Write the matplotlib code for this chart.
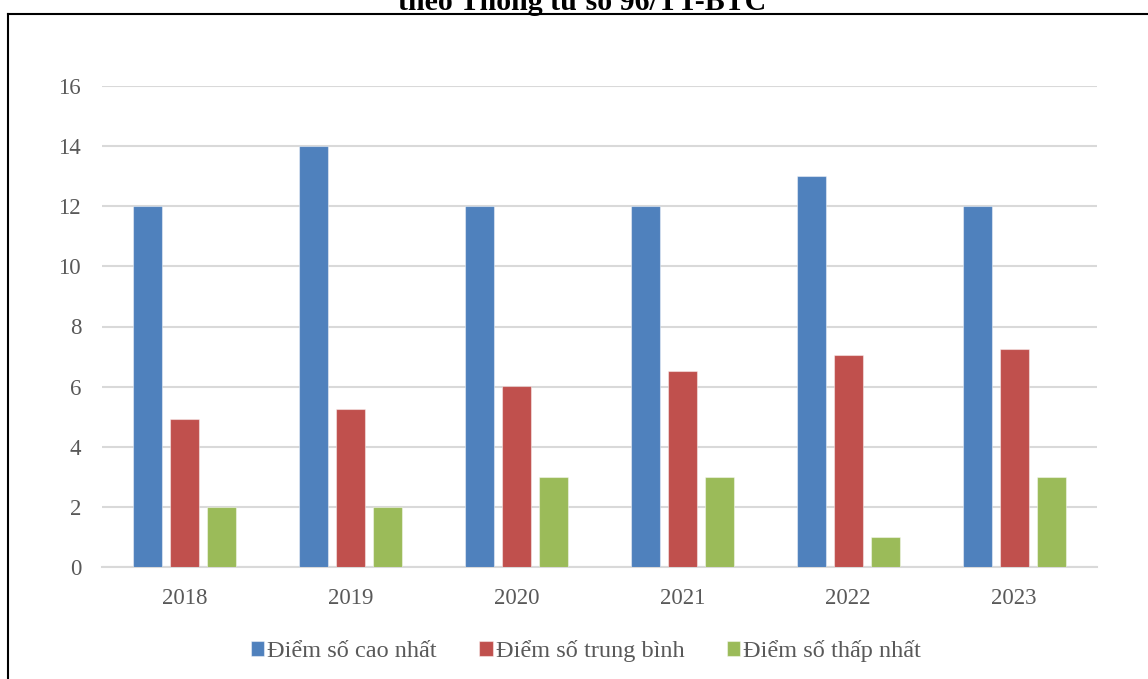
import numpy as np
import matplotlib.pyplot as plt
from matplotlib.lines import Line2D

years = ['2018', '2019', '2020', '2021', '2022', '2023']
cao_nhat = [12, 14, 12, 12, 13, 12]
trung_binh = [4.92, 5.27, 6.02, 6.52, 7.05, 7.24]
thap_nhat = [2, 2, 3, 3, 1, 3]
labels = ['Điểm số cao nhất', 'Điểm số trung bình', 'Điểm số thấp nhất']
colors = ['#4F81BD', '#C0504D', '#9BBB59']

plt.rcParams['font.family'] = ['Liberation Serif', 'DejaVu Serif']

fig = plt.figure(figsize=(11.48, 6.79), dpi=100)
ax = fig.add_axes([102/1148, 1-567/679, 995/1148, 481/679])

x = np.arange(len(years))
w = 0.175
step = 0.223
for i, (vals, lab, c) in enumerate(zip([cao_nhat, trung_binh, thap_nhat], labels, colors)):
    ax.bar(x + (i - 1)*step, vals, w, color=c, label=lab,
           edgecolor=(1, 1, 1, 0.45), linewidth=0.8, zorder=3)

ax.set_xlim(-0.5, len(years) - 0.5)
ax.set_ylim(0, 16)
ax.set_yticks(range(0, 17, 2))
ax.set_xticks(x)
ax.set_xticklabels(years)
ax.grid(axis='y', color='#d9d9d9', linewidth=1.5, zorder=0)
for s in ['top', 'right', 'left']:
    ax.spines[s].set_visible(False)
ax.spines['bottom'].set_color('#d9d9d9')
ax.spines['bottom'].set_linewidth(1.5)
ax.tick_params(length=0, labelsize=16.5, labelcolor='#595959')
ax.tick_params(axis='y', pad=15)
ax.tick_params(axis='x', pad=15)

ax.legend(loc='center', bbox_to_anchor=(586/1148, 1-651/679), bbox_transform=fig.transFigure,
          ncol=3, frameon=False, fontsize=17.5, labelcolor='#595959',
          handlelength=0.55, handleheight=0.55, handletextpad=0.12, columnspacing=1.75)

# chart border (only top and left edges visible)
fig.add_artist(Line2D([8/1148, 1], [1-14/679, 1-14/679], transform=fig.transFigure, color='black', linewidth=1.5))
fig.add_artist(Line2D([8/1148, 8/1148], [0, 1-14/679], transform=fig.transFigure, color='black', linewidth=1.5))

fig.text(582/1148, 1-10/679, 'theo Thông tư số 96/TT-BTC', ha='center', va='baseline',
         fontsize=21.5, fontweight='bold', color='black')

fig.savefig('out.png', dpi=100)
